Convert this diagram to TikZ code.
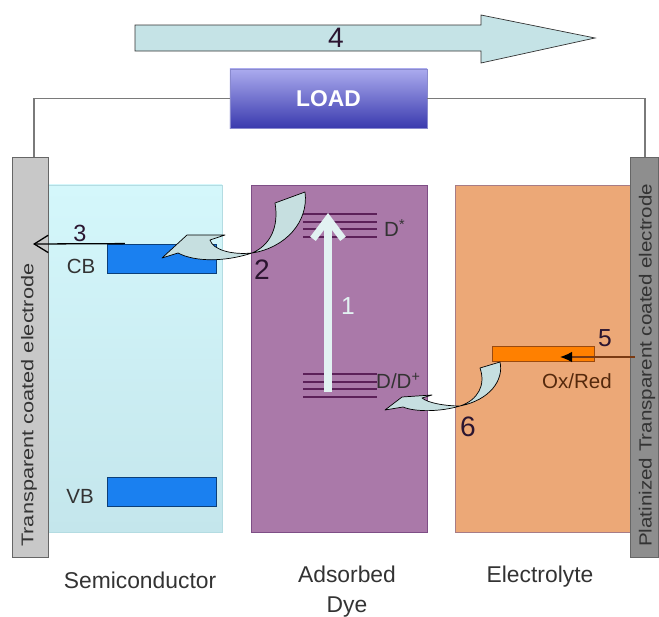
\documentclass[tikz,border=0pt]{standalone}
\usepackage{fontspec}
\setmainfont{Liberation Sans}
\usepackage{graphicx}
\usetikzlibrary{arrows.meta, positioning, calc}

\definecolor{scTop}{HTML}{D4F7FB}
\definecolor{scBot}{HTML}{C4E6EC}
\definecolor{scLine}{HTML}{B4DCE2}
\definecolor{dyeFill}{HTML}{AA79A9}
\definecolor{dyeLine}{HTML}{7E4E86}
\definecolor{elFill}{HTML}{ECA877}
\definecolor{elLine}{HTML}{A77C86}
\definecolor{bandBlue}{HTML}{1A80F0}
\definecolor{bandLine}{HTML}{0C3F78}
\definecolor{redoxFill}{HTML}{FF8000}
\definecolor{redoxLine}{HTML}{9A4A10}
\definecolor{levelLine}{HTML}{5C2159}
\definecolor{swooshFill}{HTML}{C6DFE0}
\definecolor{bigArrowFill}{HTML}{C5E3E6}
\definecolor{loadTop}{HTML}{ABABEE}
\definecolor{loadBot}{HTML}{3A3AAE}
\definecolor{wireGray}{HTML}{7A7A7A}
\definecolor{elecLight}{HTML}{C8C8C8}
\definecolor{elecDark}{HTML}{8E8E8E}
\definecolor{txtDark}{HTML}{333333}
\definecolor{numDark}{HTML}{2B1530}
\definecolor{exciteCol}{HTML}{E2F2F2}
\definecolor{regenCol}{HTML}{7A3A12}

\tikzset{
  dsc-layer/.style={rectangle, minimum width=5.25cm, minimum height=10.41cm, inner sep=0pt},
  dsc-elec/.style={rectangle, draw=black!60, minimum height=12cm, inner sep=0pt},
  dsc-band/.style={rectangle, fill=bandBlue, draw=bandLine, minimum width=3.27cm,
    minimum height=0.88cm, inner sep=0pt},
  dsc-load/.style={rectangle, top color=loadTop, bottom color=loadBot, draw=loadBot!60,
    minimum width=5.91cm, minimum height=1.77cm, text=white,
    font=\bfseries\fontsize{19.5}{22}\selectfont},
  dsc-lbl/.style={font=\fontsize{19.5}{25.5}\selectfont, text=txtDark, align=center},
  dsc-small/.style={font=\fontsize{17.5}{20}\selectfont, text=txtDark, inner sep=0pt},
  dsc-num/.style={font=\fontsize{24}{26}\selectfont, text=numDark, inner sep=0pt},
  dsc-swoosh/.style={fill=swooshFill, draw=black, line width=0.6pt, line join=round},
  dsc-wire/.style={draw=wireGray, line width=0.9pt},
  dsc-level/.style={draw=levelLine, line width=1.1pt},
  dsc-inject/.style={draw=black, line width=1.1pt, -{Straight Barb[length=0.42cm, width=0.52cm]}},
  dsc-regen/.style={draw=regenCol, line width=1.4pt, -{Latex[length=0.36cm, width=0.32cm, color=black]}},
  dsc-excite/.style={draw=exciteCol, line width=6pt, -{Straight Barb[length=0.6cm, width=0.9cm]}},
}

\begin{document}
\begin{tikzpicture}[x=0.03cm, y=-0.03cm]
  \useasboundingbox (0,0) rectangle (659,617);

  % cell layers
  \node[dsc-layer, top color=scTop, bottom color=scBot, draw=scLine, minimum width=5.22cm] (semi) at (135,358.5) {};
  \node[dsc-layer, fill=dyeFill, draw=dyeLine, minimum width=5.28cm] (dye) at (339,358.5) {};
  \node[dsc-layer, fill=elFill, draw=elLine] (elyte) at (542.5,358.5) {};

  \node[dsc-band] (cb) at (161.5,258.5) {};
  \node[dsc-band] (vb) at (161.5,492) {};
  \node[rectangle, fill=redoxFill, draw=redoxLine, minimum width=3.06cm, minimum height=0.45cm,
    inner sep=0pt] (redox) at (543,353.5) {};

  % electrodes
  \node[dsc-elec, fill=elecLight, minimum width=1.08cm] (lelec) at (30,357) {};
  \node[dsc-elec, fill=elecDark, minimum width=0.84cm] (relec) at (644,357) {};
  \node[rotate=90, anchor=west, inner sep=0pt, text=txtDark, font=\fontsize{14.5}{16}\selectfont]
    (ltxt) at (29,547) {\scalebox{1.28}[1]{Transparent coated electrode}};
  \node[rotate=90, anchor=west, inner sep=0pt, text=txtDark, font=\fontsize{15}{17}\selectfont]
    (rtxt) at (647,547) {\scalebox{1.17}[1]{Platinized Transparent coated electrode}};

  % external circuit
  \node[dsc-load] (load) at (328.5,98.5) {LOAD};
  \draw[dsc-wire] ([xshift=0.12cm]lelec.north) |- (load.west);
  \draw[dsc-wire] (load.east) -| ([xshift=0.03cm]relec.north);

  \draw[fill=bigArrowFill, draw=black!80, line width=0.6pt]
    (135,25) -- (481,25) -- (481,15) -- (595,38) -- (481,63) -- (481,51) -- (135,51) -- cycle;
  \node[dsc-num] (n4) at (336,38) {4};

  % dye levels
  \foreach \ly in {214,222,229,237} \draw[dsc-level] (303,\ly) -- (377,\ly);
  \foreach \ly in {374,382,389,397} \draw[dsc-level] (303,\ly) -- (377,\ly);
  \node[dsc-small, anchor=west] (dstar) at (384,228) {D\textsuperscript{*}};
  \node[dsc-small, anchor=west] (dground) at (376,381) {D/D\textsuperscript{+}};

  \coordinate (gnd) at (328,392);
  \coordinate (exc) at (328,213);
  \draw[dsc-excite] (gnd) -- (exc);
  \node[dsc-num, text=exciteCol, font=\fontsize{21}{22}\selectfont] (n1) at (348,306) {1};

  % injection and regeneration
  \coordinate (c3) at (33,244);
  \draw[dsc-inject] ([xshift=0.54cm]cb.north west) -- (c3);
  \node[dsc-num, font=\fontsize{20}{22}\selectfont] (n3) at (80,233) {3};

  \coordinate (c5) at (560,357);
  \draw[dsc-regen] ([xshift=0.15cm]relec.west) -- (c5);
  \node[dsc-num, font=\fontsize{21}{22}\selectfont] (n5) at (605,338) {5};

  \draw[dsc-swoosh] (252,253) .. controls (285,248) and (309,222) .. (305,192)
    -- (275,203) .. controls (279,226) and (271,245) .. (252,253)
    .. controls (225,262) and (195,262) .. (178,253) -- (162,258) -- (187,235) -- (225,235)
    -- (210,240) .. controls (213,250) and (232,255) .. cycle;
  \node[dsc-num] (n2) at (262,270) {2};

  \draw[dsc-swoosh] (460,406) .. controls (490,400) and (504,380) .. (500,362)
    -- (480,368) .. controls (486,385) and (478,400) .. (460,406)
    .. controls (440,412) and (415,412) .. (403,407) -- (385,410) -- (402,397) -- (432,395)
    -- (422,398) .. controls (428,403) and (445,406) .. cycle;
  \node[dsc-num] (n6) at (468,427) {6};

  % band labels
  \node[dsc-small] (cblbl) at (81,266) {CB};
  \node[dsc-small] (vblbl) at (80,496) {VB};
  \node[dsc-small, text=regenCol!70!black] (oxlbl) at (577,381) {Ox/Red};

  % layer names
  \node[dsc-lbl] (semilbl) at (140,580) {Semiconductor};
  \node[dsc-lbl] (dyelbl) at (347,592) {Adsorbed\\Dye};
  \node[dsc-lbl] (elytelbl) at (540,577) {Electrolyte};
\end{tikzpicture}
\end{document}
